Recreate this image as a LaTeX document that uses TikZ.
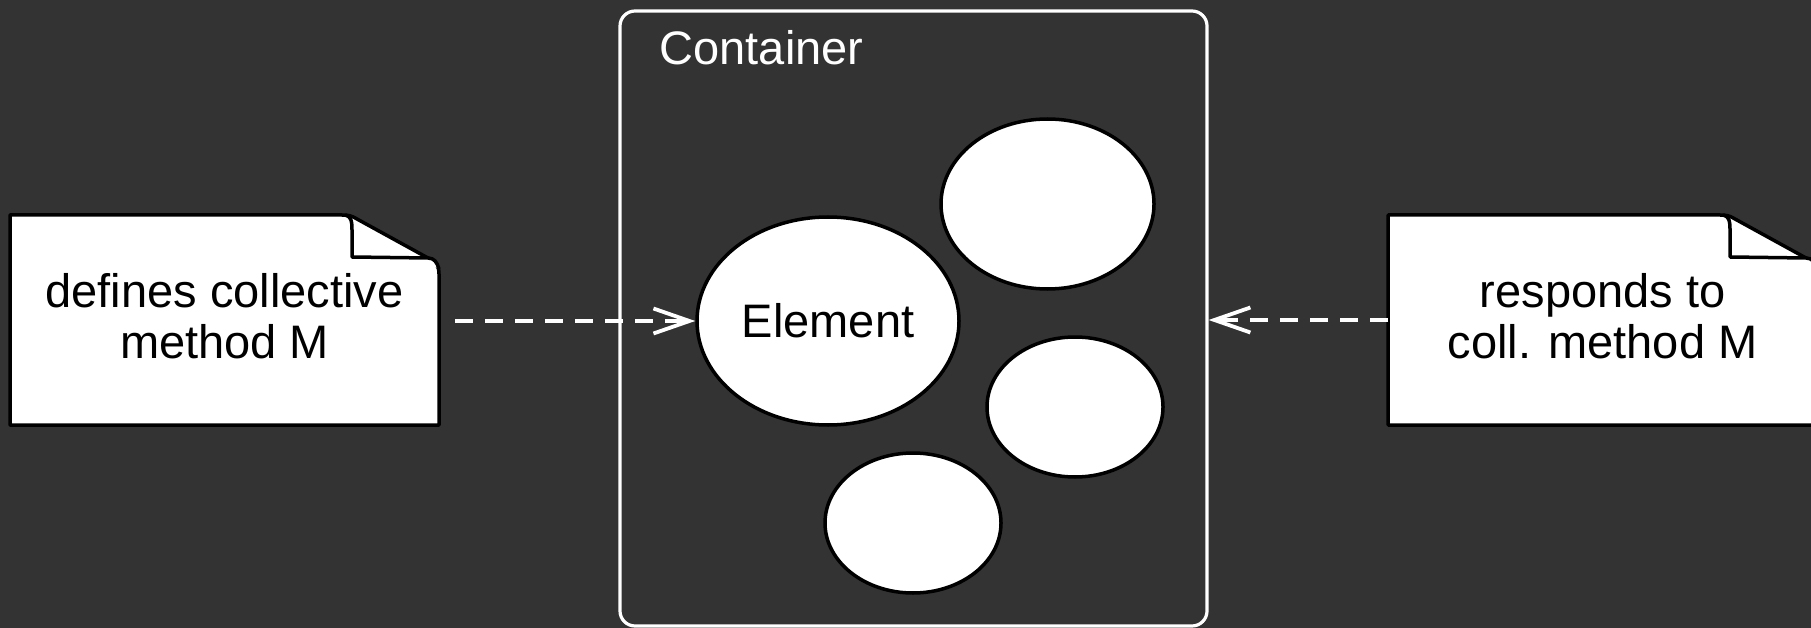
\documentclass[tikz,border=0pt]{standalone}
\usepackage{fontspec}
\setmainfont{Liberation Sans}
\usetikzlibrary{arrows.meta,shapes.geometric}
\definecolor{bg}{HTML}{333333}
\begin{document}
\begin{tikzpicture}[x=1pt,y=-1pt,
  txt/.style={font=\fontsize{47}{51.5}\selectfont, align=center, inner sep=0pt},
  elem/.style={ellipse, draw=black, fill=white, line width=3.5pt, inner sep=0pt},
  notebox/.style={draw=black, fill=white, line width=3.5pt, line join=round},
  conn/.style={draw=white, line width=3.5pt, dash pattern=on 18pt off 12pt,
    -{Straight Barb[length=36pt,width=25pt,line width=3.8pt]}},
  holder/.style={minimum width=429pt, minimum height=210pt, inner sep=0pt, outer sep=0pt}
]
\fill[bg] (0,0) rectangle (1811,628);
\useasboundingbox (0,0) rectangle (1811,628);

% container
\node[draw=white, line width=3.2pt, rounded corners=15pt, minimum width=587pt,
      minimum height=615pt, inner sep=0pt] (cont) at (913.5,318.5) {};
\node[txt, anchor=base west, text=white] (clabel) at (659.5,65) {Container};

% elements
\node[elem, txt, minimum width=262pt, minimum height=208pt] (el) at (828,321) {Element};
\node[elem, minimum width=213pt, minimum height=170pt] (e2) at (1047.5,204) {};
\node[elem, minimum width=176pt, minimum height=140pt] (e3) at (1075,407) {};
\node[elem, minimum width=176pt, minimum height=140pt] (e4) at (913,523) {};

% notes
\node[holder] (n1) at (224.5,320) {};
\node[holder] (n2) at (1602.5,320) {};
\foreach \n in {n1,n2}{
  \draw[notebox, shift={(\n)}] (-214.5,-105) -- (117.5,-105)
     .. controls (124.5,-105) and (127.5,-104) .. (132.5,-101) -- (203.5,-62)
     .. controls (211.5,-58) and (214.5,-54) .. (214.5,-46) -- (214.5,105)
     -- (-214.5,105) -- cycle;
  \draw[notebox, shift={(\n)}] (120.5,-105)
     .. controls (126.5,-104) and (127.5,-99) .. (127.5,-90) -- (127.5,-63)
     -- (203.5,-62) .. controls (209.5,-62) and (212.5,-58) .. (214.5,-51);
}
\node[txt] (t1) at (224.5,316) {defines collective\\method M};
\node[txt] (t2) at (1602.5,316) {responds to\\coll. method M};

% connectors
\coordinate (a1) at (455,321);
\draw[conn] (a1) -- (el.west);
\draw[conn] (n2.west) -- (n2.west -| cont.east);
\end{tikzpicture}
\end{document}
